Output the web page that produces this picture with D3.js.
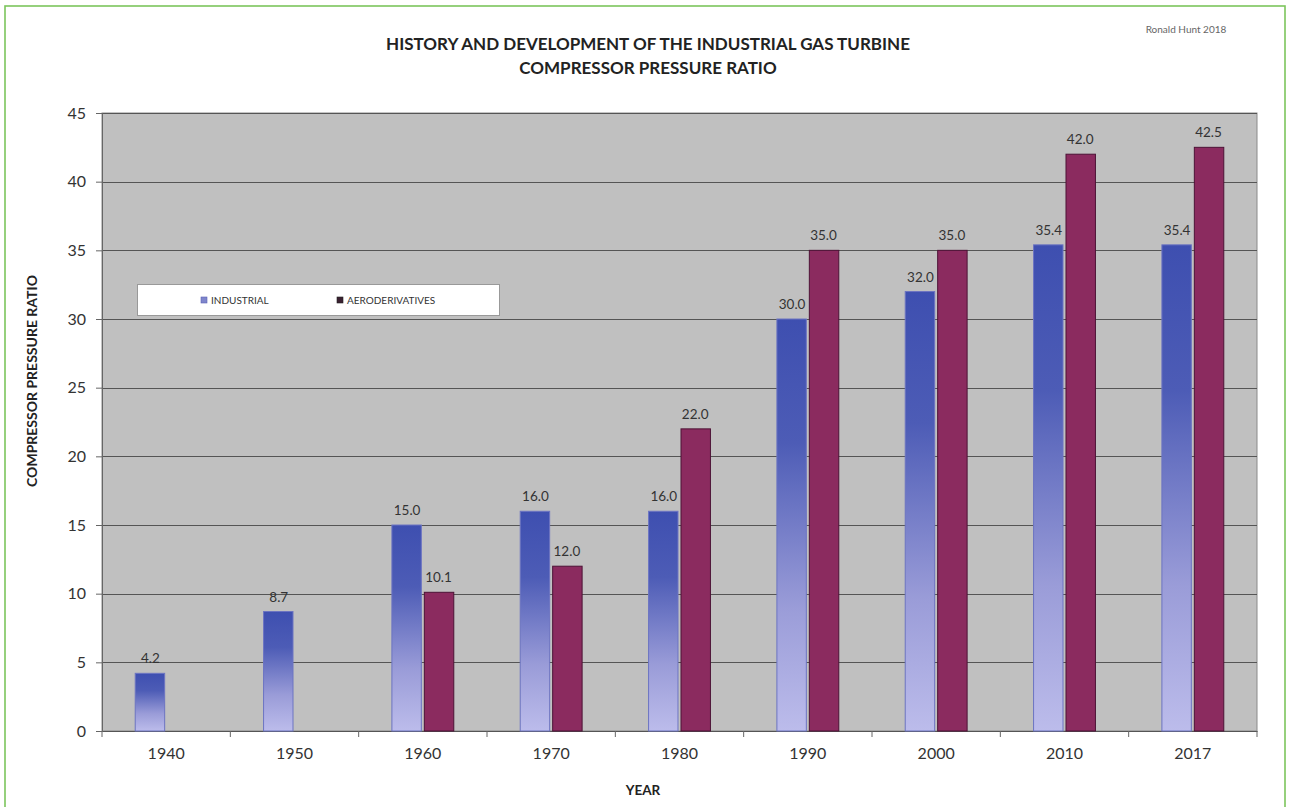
<!DOCTYPE html>
<html>
<head>
<meta charset="utf-8">
<script src="https://cdn.jsdelivr.net/npm/d3@7"></script>
<style>
  html, body { margin: 0; padding: 0; background: #ffffff; }
  svg { display: block; }
</style>
</head>
<body>
<svg id="chart" width="1290" height="807"></svg>
<script>
// Compressor pressure ratio by decade, industrial vs aeroderivative turbines
const years = ["1940", "1950", "1960", "1970", "1980", "1990", "2000", "2010", "2017"];
const industrial = [4.2, 8.7, 15.0, 16.0, 16.0, 30.0, 32.0, 35.4, 35.4];
const aeroderivatives = [null, null, 10.1, 12.0, 22.0, 35.0, 35.0, 42.0, 42.5];
const seriesNames = ["INDUSTRIAL", "AERODERIVATIVES"];
const yTicks = [0, 5, 10, 15, 20, 25, 30, 35, 40, 45];

const svg = d3.select("#chart");
const plot = { left: 102, right: 1257, top: 113, bottom: 731 };
const font = "Lato, 'Liberation Sans', sans-serif";

// vertical gradient for the industrial bars
const defs = svg.append("defs");
const g1 = defs.append("linearGradient").attr("id", "indGrad")
  .attr("x1", 0).attr("y1", 0).attr("x2", 0).attr("y2", 1);
g1.append("stop").attr("offset", "0%").attr("stop-color", "#3e4fb0");
g1.append("stop").attr("offset", "30%").attr("stop-color", "#4d5cb6");
g1.append("stop").attr("offset", "70%").attr("stop-color", "#9a9cd8");
g1.append("stop").attr("offset", "100%").attr("stop-color", "#bcbceb");

// outer frame
svg.append("rect").attr("x", 5).attr("y", 6).attr("width", 1280).attr("height", 820)
  .attr("fill", "#ffffff").attr("stroke", "#7cc55c").attr("stroke-width", 1.6);

// credit
svg.append("text").attr("x", 1186).attr("y", 33).attr("text-anchor", "middle")
  .attr("font-family", font).attr("font-size", 10).attr("fill", "#666")
  .text("Ronald Hunt 2018");

// title
const title = svg.append("text").attr("text-anchor", "middle")
  .attr("font-family", font).attr("font-weight", "bold").attr("font-size", 17).attr("fill", "#222");
title.append("tspan").attr("x", 648).attr("y", 50).text("HISTORY AND DEVELOPMENT OF THE INDUSTRIAL GAS TURBINE");
title.append("tspan").attr("x", 648).attr("y", 74).text("COMPRESSOR PRESSURE RATIO");

// scales
const x = d3.scaleBand().domain(years).range([plot.left, plot.right]).paddingInner(0).paddingOuter(0);
const bw = x.bandwidth();
const x1 = d3.scaleBand().domain(seriesNames).range([bw * 0.255, bw * 0.745]);
const y = d3.scaleLinear().domain([0, 45]).range([plot.bottom, plot.top]);

// plot background
svg.append("rect").attr("x", plot.left).attr("y", plot.top)
  .attr("width", plot.right - plot.left).attr("height", plot.bottom - plot.top)
  .attr("fill", "#c0c0c0").attr("stroke", "#8a8a8a").attr("stroke-width", 1);

// gridlines
svg.append("g").selectAll("line").data(yTicks.filter(t => t > 0)).join("line")
  .attr("x1", plot.left).attr("x2", plot.right)
  .attr("y1", d => Math.round(y(d)) + 0.5).attr("y2", d => Math.round(y(d)) + 0.5)
  .attr("stroke", "#555").attr("stroke-width", 1);

// y axis
const yAxis = svg.append("g").attr("transform", `translate(${plot.left},0)`)
  .call(d3.axisLeft(y).tickValues(yTicks).tickSize(6).tickPadding(10));
yAxis.select(".domain").attr("stroke", "#666");
yAxis.selectAll(".tick line").attr("stroke", "#666");
yAxis.selectAll("text").attr("font-family", font).attr("font-size", 16).attr("fill", "#333");

// x axis with ticks at category boundaries
const xAxis = svg.append("g").attr("transform", `translate(0,${plot.bottom})`)
  .call(d3.axisBottom(x).tickSize(0).tickPadding(17));
xAxis.select(".domain").attr("stroke", "#555");
xAxis.selectAll("text").attr("font-family", font).attr("font-size", 16).attr("fill", "#333");
svg.append("g").selectAll("line").data(d3.range(years.length + 1)).join("line")
  .attr("x1", i => plot.left + i * bw).attr("x2", i => plot.left + i * bw)
  .attr("y1", plot.bottom).attr("y2", plot.bottom + 6)
  .attr("stroke", "#666");

// bars
const rows = years.map((yr, i) => ({ year: yr, values: [
  { s: seriesNames[0], v: industrial[i] },
  { s: seriesNames[1], v: aeroderivatives[i] }
].filter(d => d.v != null) }));

const groups = svg.append("g").selectAll("g").data(rows).join("g")
  .attr("transform", d => `translate(${x(d.year)},0)`);

groups.selectAll("rect").data(d => d.values).join("rect")
  .attr("x", d => x1(d.s) + (d.s === seriesNames[0] ? 0.5 : 1.5))
  .attr("width", x1.bandwidth() - 2)
  .attr("y", d => y(d.v))
  .attr("height", d => y(0) - y(d.v))
  .attr("fill", d => d.s === seriesNames[0] ? "url(#indGrad)" : "#8b2b5f")
  .attr("stroke", d => d.s === seriesNames[0] ? "#6c74c2" : "#4d1236")
  .attr("stroke-width", 1);

groups.selectAll("text").data(d => d.values).join("text")
  .attr("x", d => x1(d.s) + x1.bandwidth() / 2)
  .attr("y", d => y(d.v) - 10)
  .attr("text-anchor", "middle")
  .attr("font-family", font).attr("font-size", 13.5).attr("fill", "#333")
  .text(d => d.v.toFixed(1));

// axis titles
svg.append("text").attr("transform", "translate(37,381) rotate(-90)")
  .attr("text-anchor", "middle").attr("font-family", font).attr("font-weight", "bold")
  .attr("font-size", 14).attr("fill", "#222").text("COMPRESSOR PRESSURE RATIO");
svg.append("text").attr("x", 643).attr("y", 795).attr("text-anchor", "middle")
  .attr("font-family", font).attr("font-weight", "bold").attr("font-size", 13.5)
  .attr("fill", "#222").text("YEAR");

// legend
const lg = svg.append("g");
lg.append("rect").attr("x", 137.5).attr("y", 284.5).attr("width", 362).attr("height", 31)
  .attr("fill", "#ffffff").attr("stroke", "#999").attr("stroke-width", 1);
const legendItems = [
  { name: seriesNames[0], x: 201, fill: "#7f86cc", stroke: "#5a62b4" },
  { name: seriesNames[1], x: 337, fill: "#3a2030", stroke: "#222" }
];
legendItems.forEach(it => {
  lg.append("rect").attr("x", it.x).attr("y", 297).attr("width", 6).attr("height", 6)
    .attr("fill", it.fill).attr("stroke", it.stroke).attr("stroke-width", 0.6);
  lg.append("text").attr("x", it.x + 10).attr("y", 304)
    .attr("font-family", font).attr("font-size", 10).attr("fill", "#333").text(it.name);
});
</script>
</body>
</html>
